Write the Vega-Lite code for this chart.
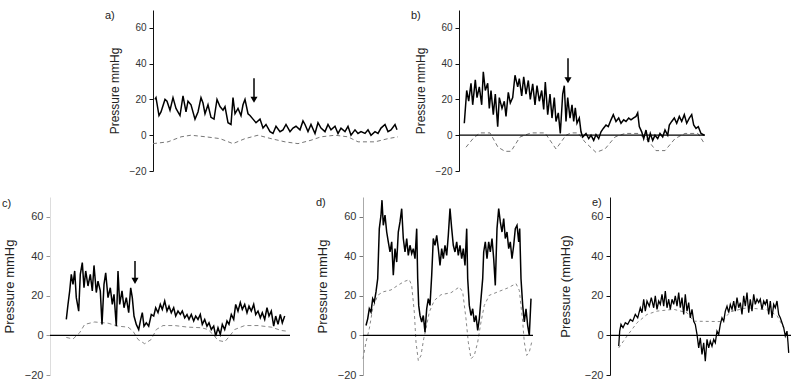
{
  "$schema": "https://vega.github.io/schema/vega-lite/v6.json",
  "padding": {"left": 2, "top": 10, "right": 0, "bottom": 0},
  "background": "white",
  "config": {
    "view": {"stroke": null},
    "font": "Liberation Sans",
    "axis": {"labelFont": "Liberation Sans", "labelFontSize": 10, "labelColor": "#333", "titleFont": "Liberation Sans", "titleFontSize": 12, "titleFontWeight": "normal", "titleColor": "#222", "domainColor": "#111", "tickColor": "#111", "tickSize": 4, "grid": false, "titlePadding": 8, "labelPadding": 3},
    "title": {"font": "Liberation Sans", "fontSize": 11, "fontWeight": "normal", "color": "#222", "anchor": "start", "frame": "group", "baseline": "bottom"}
  },
  "datasets": {
    "zero": [{"z": 0}],
    "a_s": [{"t":2,"v":20},{"t":3,"v":21},{"t":6,"v":11},{"t":8,"v":13},{"t":12,"v":20},{"t":14,"v":19},{"t":17,"v":14},{"t":20,"v":21},{"t":23,"v":15},{"t":27,"v":11},{"t":30,"v":22},{"t":33,"v":13},{"t":35,"v":19},{"t":38,"v":17},{"t":42,"v":9},{"t":45,"v":13},{"t":48,"v":21},{"t":50,"v":18},{"t":52,"v":12},{"t":55,"v":17},{"t":58,"v":10},{"t":61,"v":9},{"t":64,"v":20},{"t":67,"v":16},{"t":70,"v":14},{"t":72,"v":16},{"t":75,"v":7},{"t":78,"v":6},{"t":80,"v":21},{"t":82,"v":12},{"t":85,"v":15},{"t":88,"v":11},{"t":90,"v":17},{"t":92,"v":20},{"t":95,"v":12},{"t":97,"v":11},{"t":100,"v":9},{"t":103,"v":7},{"t":107,"v":9},{"t":110,"v":4},{"t":113,"v":6},{"t":117,"v":2},{"t":120,"v":1},{"t":123,"v":5},{"t":127,"v":2},{"t":130,"v":3},{"t":133,"v":6},{"t":137,"v":2},{"t":140,"v":4},{"t":143,"v":5},{"t":147,"v":3},{"t":150,"v":8},{"t":152,"v":6},{"t":155,"v":2},{"t":158,"v":6},{"t":162,"v":1},{"t":165,"v":7},{"t":168,"v":4},{"t":172,"v":2},{"t":175,"v":6},{"t":178,"v":3},{"t":182,"v":5},{"t":185,"v":1},{"t":188,"v":4},{"t":192,"v":2},{"t":195,"v":5},{"t":198,"v":0},{"t":202,"v":3},{"t":205,"v":1},{"t":208,"v":2},{"t":212,"v":1},{"t":215,"v":3},{"t":218,"v":0},{"t":222,"v":2},{"t":225,"v":1},{"t":228,"v":4},{"t":232,"v":6},{"t":235,"v":2},{"t":238,"v":3},{"t":242,"v":6},{"t":244,"v":3}],
    "a_d": [{"t":0,"v":-4.7},{"t":15,"v":-3.7},{"t":28,"v":-0.9},{"t":38,"v":0},{"t":53,"v":-0.9},{"t":67,"v":-1.9},{"t":80,"v":-4.7},{"t":92,"v":-1.9},{"t":105,"v":0},{"t":118,"v":-1.9},{"t":132,"v":-3.7},{"t":145,"v":-4.7},{"t":158,"v":-2.8},{"t":168,"v":-0.9},{"t":182,"v":0},{"t":195,"v":-0.9},{"t":205,"v":-3.7},{"t":222,"v":-3.7},{"t":235,"v":-1.9},{"t":245,"v":-0.9}],
    "b_s": [{"t":5.3,"v":6.7},{"t":7.7,"v":25},{"t":9.7,"v":19},{"t":12,"v":29},{"t":13.7,"v":17},{"t":16.3,"v":31},{"t":18,"v":21},{"t":20.3,"v":27},{"t":22.7,"v":17},{"t":24.3,"v":35.5},{"t":26.3,"v":25},{"t":28.7,"v":29},{"t":30.3,"v":15},{"t":32,"v":25},{"t":34.3,"v":11.5},{"t":36.3,"v":23},{"t":38.7,"v":4.8},{"t":40.3,"v":21},{"t":43,"v":15},{"t":45.3,"v":19},{"t":47,"v":10.5},{"t":49.3,"v":24},{"t":51.3,"v":18},{"t":53.7,"v":21},{"t":56,"v":33.5},{"t":58.7,"v":27},{"t":60.3,"v":31.6},{"t":62.7,"v":22},{"t":64.7,"v":32.6},{"t":67,"v":23},{"t":69.3,"v":30.6},{"t":71.3,"v":20},{"t":73.7,"v":28.7},{"t":76,"v":17},{"t":78,"v":27.7},{"t":80.3,"v":19},{"t":82.7,"v":25},{"t":84.7,"v":14.4},{"t":86.3,"v":29.7},{"t":88.7,"v":11.5},{"t":91,"v":23},{"t":93,"v":9.6},{"t":95.3,"v":21},{"t":97,"v":7.7},{"t":99.3,"v":12.5},{"t":101.3,"v":1},{"t":103.7,"v":23},{"t":105.3,"v":27.7},{"t":107,"v":7.7},{"t":108.7,"v":21},{"t":111,"v":9.6},{"t":113,"v":17},{"t":114.7,"v":7.7},{"t":116.3,"v":15.3},{"t":118,"v":6.7},{"t":120.3,"v":9.6},{"t":122,"v":1.9},{"t":123.7,"v":-1},{"t":127,"v":1},{"t":129.7,"v":-1.9},{"t":132,"v":0},{"t":134.7,"v":-2.9},{"t":137,"v":0.4},{"t":139.7,"v":-1.9},{"t":142,"v":1.9},{"t":144.3,"v":3.8},{"t":147,"v":5.7},{"t":149.3,"v":4.8},{"t":152,"v":8.6},{"t":154.3,"v":11.5},{"t":157,"v":7.7},{"t":159.7,"v":9.6},{"t":162,"v":6.7},{"t":164.7,"v":8.6},{"t":167,"v":7.7},{"t":169.7,"v":9.6},{"t":172,"v":8.6},{"t":174.3,"v":9.6},{"t":177,"v":10.5},{"t":178.7,"v":12.5},{"t":180.3,"v":4.8},{"t":182.7,"v":1.9},{"t":184.7,"v":-1.9},{"t":187,"v":2.9},{"t":189.3,"v":-3.8},{"t":191.3,"v":1},{"t":193.7,"v":-2.9},{"t":196,"v":0},{"t":198.7,"v":-1.9},{"t":201,"v":1},{"t":203.7,"v":-1},{"t":206,"v":2.9},{"t":208.7,"v":0},{"t":210.3,"v":5.7},{"t":212.7,"v":7.7},{"t":215.3,"v":9.6},{"t":217.7,"v":6.7},{"t":220.3,"v":10.5},{"t":222.7,"v":7.7},{"t":225.3,"v":11.5},{"t":227.7,"v":6.7},{"t":230.3,"v":9.6},{"t":232.7,"v":11.5},{"t":234.7,"v":5.7},{"t":237,"v":3.8},{"t":239.3,"v":4.8},{"t":242,"v":1},{"t":245.3,"v":0}],
    "b_d": [{"t":7,"v":-6.7},{"t":14,"v":-1.9},{"t":21,"v":1.3},{"t":31,"v":1.3},{"t":39,"v":-6.7},{"t":46,"v":-9},{"t":52,"v":-9},{"t":61,"v":-1},{"t":72,"v":1.3},{"t":86,"v":1.3},{"t":97,"v":-7.7},{"t":107,"v":0},{"t":112,"v":1.3},{"t":119,"v":1.3},{"t":126,"v":-3.8},{"t":137,"v":-9.6},{"t":146,"v":-7.7},{"t":156,"v":-1},{"t":166,"v":1},{"t":179,"v":1},{"t":189,"v":-2.9},{"t":197,"v":-8.6},{"t":206,"v":-8.6},{"t":216,"v":-1.9},{"t":226,"v":1},{"t":239,"v":1},{"t":246,"v":-5.2}],
    "c_s": [{"t":16.3,"v":8.1},{"t":18,"v":15.7},{"t":19.7,"v":22.5},{"t":21.3,"v":30.9},{"t":23,"v":25.8},{"t":24.7,"v":32.6},{"t":26.3,"v":19.1},{"t":28.7,"v":12.3},{"t":30.3,"v":30.9},{"t":32.3,"v":36.8},{"t":34,"v":24.1},{"t":35.7,"v":32.6},{"t":38,"v":25},{"t":40.3,"v":30.9},{"t":42.3,"v":22.5},{"t":44,"v":35.4},{"t":46.3,"v":21.7},{"t":48,"v":27.5},{"t":50.3,"v":22.5},{"t":52,"v":5.6},{"t":54,"v":25.8},{"t":55.7,"v":31.7},{"t":58,"v":19.1},{"t":60.3,"v":24.1},{"t":62.3,"v":15.7},{"t":64,"v":20.8},{"t":66.3,"v":4.7},{"t":68,"v":32.6},{"t":69.7,"v":15.7},{"t":72,"v":22.5},{"t":74,"v":14},{"t":76.3,"v":19.1},{"t":78.7,"v":11.5},{"t":80.7,"v":24.1},{"t":82.3,"v":19.1},{"t":84,"v":9.8},{"t":86.3,"v":5.6},{"t":88.7,"v":3},{"t":90.7,"v":8.1},{"t":92.3,"v":11.5},{"t":94,"v":4.7},{"t":96.3,"v":6.4},{"t":98.7,"v":4.7},{"t":101.3,"v":10.6},{"t":103.7,"v":9.8},{"t":105.7,"v":14},{"t":108,"v":11.5},{"t":110.3,"v":15.7},{"t":112.3,"v":13.2},{"t":114.7,"v":17.4},{"t":117,"v":12.3},{"t":119,"v":14.8},{"t":121.3,"v":11.5},{"t":123.7,"v":14},{"t":125.7,"v":9.8},{"t":128,"v":12.3},{"t":130.3,"v":10.6},{"t":132.3,"v":12.3},{"t":134.7,"v":8.9},{"t":137,"v":10.6},{"t":139,"v":8.1},{"t":141.3,"v":10.6},{"t":143.7,"v":7.3},{"t":145.7,"v":9.8},{"t":148,"v":8.1},{"t":150.3,"v":10.6},{"t":152.3,"v":5.6},{"t":154.7,"v":8.1},{"t":157,"v":4.7},{"t":159,"v":6.4},{"t":161.3,"v":3},{"t":163.7,"v":4.7},{"t":165.7,"v":-0.3},{"t":168,"v":3.9},{"t":170.3,"v":0.5},{"t":172.3,"v":5.6},{"t":174.7,"v":3},{"t":177,"v":7.3},{"t":179,"v":5.6},{"t":181.3,"v":10.6},{"t":183.7,"v":8.1},{"t":185.7,"v":15.7},{"t":188,"v":12.3},{"t":190.3,"v":16.6},{"t":192.3,"v":13.2},{"t":194.7,"v":15.7},{"t":197,"v":11.5},{"t":199,"v":14.8},{"t":201.3,"v":12.3},{"t":203.7,"v":15.7},{"t":205.7,"v":10.6},{"t":208,"v":12.3},{"t":210.3,"v":8.9},{"t":212.3,"v":11.5},{"t":214.7,"v":8.1},{"t":217,"v":14},{"t":219,"v":9.8},{"t":221.3,"v":12.3},{"t":223.7,"v":4.7},{"t":225.7,"v":9.8},{"t":228,"v":5.6},{"t":230.3,"v":10.6},{"t":232.3,"v":6.4},{"t":234.7,"v":9.8}],
    "c_d": [{"t":16.3,"v":-1},{"t":23,"v":-1.8},{"t":29.7,"v":1.4},{"t":34.7,"v":5.6},{"t":44.7,"v":6.8},{"t":58,"v":6.2},{"t":68,"v":4.7},{"t":78,"v":4.2},{"t":83,"v":2.2},{"t":88,"v":-2},{"t":94.7,"v":-4.2},{"t":101.3,"v":-2},{"t":106.3,"v":3},{"t":113,"v":5},{"t":124.7,"v":5},{"t":138,"v":4.2},{"t":151.3,"v":3.9},{"t":158,"v":3},{"t":163,"v":0.5},{"t":168,"v":-2.5},{"t":174.7,"v":-3.2},{"t":179.7,"v":-0.3},{"t":184.7,"v":3},{"t":194.7,"v":5},{"t":208,"v":5},{"t":221.3,"v":4.2},{"t":231.3,"v":2.5},{"t":236.3,"v":2.2}],
    "d_s": [{"t":3,"v":5},{"t":4.7,"v":8.4},{"t":6.3,"v":13.5},{"t":8,"v":11.8},{"t":9.7,"v":18.6},{"t":11.3,"v":16.9},{"t":13,"v":22},{"t":14.7,"v":28.7},{"t":16.3,"v":54},{"t":18,"v":60.8},{"t":19,"v":68.4},{"t":20.3,"v":55.7},{"t":22,"v":60.8},{"t":23.7,"v":52.3},{"t":25.3,"v":47.3},{"t":27,"v":42.2},{"t":28.7,"v":47.3},{"t":30.3,"v":30.4},{"t":32,"v":43.9},{"t":33.7,"v":37.1},{"t":35.3,"v":52.3},{"t":37,"v":57.4},{"t":38.7,"v":64.1},{"t":40.3,"v":49},{"t":42,"v":42.2},{"t":43.7,"v":49},{"t":45.3,"v":40.5},{"t":47,"v":45.6},{"t":48.7,"v":41.4},{"t":50.3,"v":43.9},{"t":52,"v":38.8},{"t":53.7,"v":54},{"t":54.7,"v":28.7},{"t":55.7,"v":15.2},{"t":57,"v":10.1},{"t":58.7,"v":6.8},{"t":60.3,"v":10.1},{"t":62,"v":1.7},{"t":63.7,"v":13.5},{"t":65.3,"v":18.6},{"t":67,"v":15.2},{"t":68.7,"v":30.4},{"t":70.3,"v":49},{"t":72,"v":45.6},{"t":73.7,"v":50.6},{"t":75.3,"v":43.9},{"t":77,"v":35.4},{"t":78.7,"v":43.9},{"t":80.3,"v":38.8},{"t":82,"v":45.6},{"t":83.7,"v":40.5},{"t":85.3,"v":50.6},{"t":87,"v":64.1},{"t":88.7,"v":54},{"t":90.3,"v":45.6},{"t":92,"v":42.2},{"t":93.7,"v":47.3},{"t":95.3,"v":40.5},{"t":97,"v":45.6},{"t":98.7,"v":38.8},{"t":100.3,"v":43.9},{"t":102,"v":35.4},{"t":103.7,"v":54},{"t":104.7,"v":28.7},{"t":106.3,"v":15.2},{"t":108,"v":10.1},{"t":109.7,"v":13.5},{"t":111.3,"v":6.8},{"t":113,"v":10.1},{"t":114.7,"v":2.5},{"t":116.3,"v":8.4},{"t":118,"v":18.6},{"t":119.7,"v":28.7},{"t":120.7,"v":42.2},{"t":122.3,"v":47.3},{"t":124,"v":38.8},{"t":125.7,"v":47.3},{"t":127.3,"v":42.2},{"t":129,"v":49},{"t":130.7,"v":38.8},{"t":132.3,"v":25.3},{"t":134,"v":54},{"t":135.7,"v":64.1},{"t":137.3,"v":57.4},{"t":139,"v":52.3},{"t":140.7,"v":59.1},{"t":142.3,"v":49},{"t":144,"v":52.3},{"t":145.7,"v":43.9},{"t":147.3,"v":47.3},{"t":149,"v":38.8},{"t":150.7,"v":45.6},{"t":152.3,"v":54},{"t":154,"v":55.7},{"t":155.7,"v":47.3},{"t":156.7,"v":54},{"t":158,"v":28.7},{"t":159.7,"v":15.2},{"t":161.3,"v":6.8},{"t":163,"v":13.5},{"t":164.7,"v":5},{"t":166.3,"v":0},{"t":168,"v":18.6}],
    "d_d": [{"t":0,"v":-11.8},{"t":3,"v":-3.4},{"t":6.3,"v":3.4},{"t":9.7,"v":13.5},{"t":14.7,"v":20.3},{"t":19.7,"v":22},{"t":28,"v":23},{"t":34.7,"v":25.3},{"t":41.3,"v":27.3},{"t":46.3,"v":28.2},{"t":48.7,"v":25.3},{"t":51.3,"v":11.8},{"t":53,"v":-3.4},{"t":55.3,"v":-12.7},{"t":58,"v":-10.1},{"t":60.7,"v":-1.7},{"t":63,"v":3.4},{"t":66.3,"v":11.8},{"t":71.3,"v":17.7},{"t":78,"v":20.6},{"t":88,"v":21.6},{"t":96.3,"v":24.5},{"t":99.7,"v":22},{"t":103,"v":8.4},{"t":105.3,"v":-3.4},{"t":108,"v":-11.8},{"t":111.3,"v":-10.1},{"t":114.7,"v":-3.4},{"t":118,"v":6.8},{"t":121.3,"v":15.2},{"t":126.3,"v":20.3},{"t":134.7,"v":22},{"t":144.7,"v":24},{"t":153,"v":26.2},{"t":156.3,"v":22.8},{"t":159.7,"v":6.8},{"t":161.3,"v":-3.4},{"t":163.7,"v":-10.1},{"t":166.3,"v":-8.4},{"t":168.7,"v":-3.4}],
    "e_s": [{"t":8.7,"v":-5.4},{"t":9.7,"v":2.2},{"t":11,"v":5.6},{"t":13,"v":3.9},{"t":15.3,"v":6.4},{"t":17.7,"v":5.6},{"t":20.3,"v":8.1},{"t":22.7,"v":7.2},{"t":25.3,"v":10.6},{"t":27.7,"v":8.9},{"t":30.3,"v":14},{"t":32,"v":11.5},{"t":33.7,"v":18.3},{"t":35.3,"v":12.3},{"t":37,"v":17.4},{"t":39.3,"v":14.8},{"t":41.3,"v":19.1},{"t":43.7,"v":14},{"t":45.3,"v":20},{"t":47,"v":13.2},{"t":48.7,"v":17.4},{"t":50.3,"v":15.7},{"t":52,"v":20.8},{"t":53.7,"v":14.8},{"t":55.3,"v":22.5},{"t":57,"v":14},{"t":58.7,"v":18.3},{"t":60.3,"v":13.2},{"t":62,"v":18.3},{"t":63.7,"v":15.7},{"t":65.3,"v":20},{"t":67,"v":14.8},{"t":68.7,"v":21.7},{"t":70.3,"v":14},{"t":72,"v":19.1},{"t":73.7,"v":10.6},{"t":75.3,"v":20.8},{"t":77,"v":12.3},{"t":78.7,"v":16.6},{"t":80.3,"v":8.9},{"t":82,"v":13.2},{"t":83.7,"v":7.2},{"t":85.3,"v":5.6},{"t":87,"v":0.5},{"t":88.7,"v":-6.3},{"t":90.3,"v":-1.2},{"t":92,"v":-9.6},{"t":93.7,"v":-3.7},{"t":95.3,"v":-13},{"t":97,"v":-2},{"t":98.7,"v":-6.3},{"t":100.3,"v":-2.9},{"t":102,"v":-5.4},{"t":103.7,"v":-2},{"t":105.3,"v":-3.7},{"t":107,"v":2.2},{"t":108.7,"v":0.5},{"t":110.3,"v":5.6},{"t":112,"v":8.9},{"t":113.7,"v":7.2},{"t":115.3,"v":12.3},{"t":117,"v":14.8},{"t":118.7,"v":11.5},{"t":120.3,"v":15.7},{"t":122,"v":13.2},{"t":123.7,"v":17.4},{"t":125.3,"v":12.3},{"t":127,"v":19.1},{"t":128.7,"v":14},{"t":130.3,"v":16.6},{"t":132,"v":10.6},{"t":133.7,"v":20},{"t":135.3,"v":14.8},{"t":137,"v":21.7},{"t":138.7,"v":11.5},{"t":140.3,"v":18.3},{"t":142,"v":12.3},{"t":143.7,"v":20.8},{"t":145.3,"v":15.7},{"t":147,"v":18.3},{"t":148.7,"v":16.6},{"t":150.3,"v":18.3},{"t":152,"v":13.2},{"t":153.7,"v":17.4},{"t":155.3,"v":15.7},{"t":157,"v":18.3},{"t":158.7,"v":10.6},{"t":160.3,"v":17.4},{"t":162,"v":8.9},{"t":163.7,"v":15.7},{"t":165.3,"v":14},{"t":167,"v":17.4},{"t":168.7,"v":10.6},{"t":170.3,"v":8.9},{"t":172,"v":6.4},{"t":173.7,"v":3.9},{"t":175.3,"v":-0.3},{"t":177,"v":2.2},{"t":178,"v":-3.7},{"t":178.7,"v":-8.8}],
    "e_d": [{"t":8.7,"v":-6.3},{"t":17,"v":-0.3},{"t":27,"v":6.4},{"t":37,"v":10.6},{"t":47,"v":12.3},{"t":63.7,"v":13.2},{"t":77,"v":11.5},{"t":83.7,"v":7.2},{"t":112,"v":7},{"t":120.3,"v":12},{"t":137,"v":14},{"t":157,"v":13},{"t":167,"v":10},{"t":173.7,"v":4}]
  },
  "vconcat": [
    {
      "hconcat": [
        {"width": 44, "height": 161, "data": {"values": [{"k": 0}]}, "mark": {"type": "point", "opacity": 0}, "encoding": {}},
        {
          "width": 247, "height": 161,
          "title": {"text": "a)", "dx": -48, "offset": -11},
          "layer": [
            {"data": {"name": "a_d"}, "mark": {"type": "line", "stroke": "#777", "strokeWidth": 1, "strokeDash": [4, 3]},
             "encoding": {"x": {"field": "t", "type": "quantitative", "scale": {"domain": [0, 247], "nice": false}, "axis": null},
                          "y": {"field": "v", "type": "quantitative", "title": "Pressure mmHg", "scale": {"domain": [-20, 70], "nice": false, "zero": false}, "axis": {"values": [-20, 0, 20, 40, 60]}}}},
            {"data": {"name": "a_s"}, "mark": {"type": "line", "stroke": "#000", "strokeWidth": 1.5},
             "encoding": {"x": {"field": "t", "type": "quantitative", "axis": null}, "y": {"field": "v", "type": "quantitative", "title": "Pressure mmHg"}}},
            {"data": {"values": [{"t": 101, "v": 19.8, "top": 31.8}]}, "mark": {"type": "rule", "stroke": "#000", "strokeWidth": 1.5},
             "encoding": {"x": {"field": "t", "type": "quantitative", "axis": null}, "y": {"field": "v", "type": "quantitative", "title": "Pressure mmHg"}, "y2": {"field": "top"}}},
            {"data": {"values": [{"t": 101, "v": 19.8}]}, "mark": {"type": "point", "shape": "triangle-down", "filled": true, "color": "#000", "size": 50, "opacity": 1},
             "encoding": {"x": {"field": "t", "type": "quantitative", "axis": null}, "y": {"field": "v", "type": "quantitative", "title": "Pressure mmHg"}}}
          ]
        },
        {
          "width": 246, "height": 161,
          "title": {"text": "b)", "dx": -48, "offset": -11},
          "layer": [
            {"data": {"name": "b_d"}, "mark": {"type": "line", "stroke": "#777", "strokeWidth": 1, "strokeDash": [4, 3]},
             "encoding": {"x": {"field": "t", "type": "quantitative", "scale": {"domain": [0, 246], "nice": false}, "axis": null},
                          "y": {"field": "v", "type": "quantitative", "title": "Pressure mmHg", "scale": {"domain": [-20, 70], "nice": false, "zero": false}, "axis": {"values": [-20, 0, 20, 40, 60]}}}},
            {"data": {"name": "zero"}, "mark": {"type": "rule", "stroke": "#000", "strokeWidth": 1.3}, "encoding": {"y": {"field": "z", "type": "quantitative", "title": "Pressure mmHg"}}},
            {"data": {"name": "b_s"}, "mark": {"type": "line", "stroke": "#000", "strokeWidth": 1.5},
             "encoding": {"x": {"field": "t", "type": "quantitative", "axis": null}, "y": {"field": "v", "type": "quantitative", "title": "Pressure mmHg"}}},
            {"data": {"values": [{"t": 109, "v": 30.7, "top": 43}]}, "mark": {"type": "rule", "stroke": "#000", "strokeWidth": 1.5},
             "encoding": {"x": {"field": "t", "type": "quantitative", "axis": null}, "y": {"field": "v", "type": "quantitative", "title": "Pressure mmHg"}, "y2": {"field": "top"}}},
            {"data": {"values": [{"t": 109, "v": 30.7}]}, "mark": {"type": "point", "shape": "triangle-down", "filled": true, "color": "#000", "size": 50, "opacity": 1},
             "encoding": {"x": {"field": "t", "type": "quantitative", "axis": null}, "y": {"field": "v", "type": "quantitative", "title": "Pressure mmHg"}}}
          ]
        }
      ],
      "spacing": 11
    },
    {
      "hconcat": [
        {
          "width": 240, "height": 178,
          "title": {"text": "c)", "dx": -48, "offset": -12},
          "layer": [
            {"data": {"name": "c_d"}, "mark": {"type": "line", "stroke": "#888", "strokeWidth": 1, "strokeDash": [4, 3]},
             "encoding": {"x": {"field": "t", "type": "quantitative", "scale": {"domain": [0, 240], "nice": false}, "axis": null},
                          "y": {"field": "v", "type": "quantitative", "title": "Pressure mmHg", "scale": {"domain": [-20, 70], "nice": false, "zero": false}, "axis": {"values": [-20, 0, 20, 40, 60], "labelFontSize": 11, "titleFontSize": 13, "domainColor": "#ddd", "tickColor": "#999"}}}},
            {"data": {"name": "zero"}, "mark": {"type": "rule", "stroke": "#000", "strokeWidth": 1.3}, "encoding": {"y": {"field": "z", "type": "quantitative", "title": "Pressure mmHg"}}},
            {"data": {"name": "c_s"}, "mark": {"type": "line", "stroke": "#000", "strokeWidth": 1.5},
             "encoding": {"x": {"field": "t", "type": "quantitative", "axis": null}, "y": {"field": "v", "type": "quantitative", "title": "Pressure mmHg"}}},
            {"data": {"values": [{"t": 85, "v": 27.6, "top": 37.6}]}, "mark": {"type": "rule", "stroke": "#000", "strokeWidth": 1.5},
             "encoding": {"x": {"field": "t", "type": "quantitative", "axis": null}, "y": {"field": "v", "type": "quantitative", "title": "Pressure mmHg"}, "y2": {"field": "top"}}},
            {"data": {"values": [{"t": 85, "v": 27.6}]}, "mark": {"type": "point", "shape": "triangle-down", "filled": true, "color": "#000", "size": 50, "opacity": 1},
             "encoding": {"x": {"field": "t", "type": "quantitative", "axis": null}, "y": {"field": "v", "type": "quantitative", "title": "Pressure mmHg"}}}
          ]
        },
        {
          "width": 170, "height": 178,
          "title": {"text": "d)", "dx": -47, "offset": -11},
          "layer": [
            {"data": {"name": "d_d"}, "mark": {"type": "line", "stroke": "#888", "strokeWidth": 1, "strokeDash": [3, 3]},
             "encoding": {"x": {"field": "t", "type": "quantitative", "scale": {"domain": [0, 170], "nice": false}, "axis": null},
                          "y": {"field": "v", "type": "quantitative", "title": "Pressure mmHg", "scale": {"domain": [-20, 70], "nice": false, "zero": false}, "axis": {"values": [-20, 0, 20, 40, 60], "labelFontSize": 11, "titleFontSize": 13, "domainColor": "#aaa", "tickColor": "#777"}}}},
            {"data": {"name": "zero"}, "mark": {"type": "rule", "stroke": "#000", "strokeWidth": 1.3}, "encoding": {"y": {"field": "z", "type": "quantitative", "title": "Pressure mmHg"}}},
            {"data": {"name": "d_s"}, "mark": {"type": "line", "stroke": "#000", "strokeWidth": 1.5},
             "encoding": {"x": {"field": "t", "type": "quantitative", "axis": null}, "y": {"field": "v", "type": "quantitative", "title": "Pressure mmHg"}}}
          ]
        },
        {
          "width": 181, "height": 178,
          "title": {"text": "e)", "dx": -18, "offset": -11},
          "layer": [
            {"data": {"name": "e_d"}, "mark": {"type": "line", "stroke": "#888", "strokeWidth": 1, "strokeDash": [3, 3]},
             "encoding": {"x": {"field": "t", "type": "quantitative", "scale": {"domain": [0, 181], "nice": false}, "axis": null},
                          "y": {"field": "v", "type": "quantitative", "title": "Pressure (mmHg)", "scale": {"domain": [-20, 70], "nice": false, "zero": false}, "axis": {"values": [-20, 0, 20, 40, 60], "labelFontSize": 11, "titleFontSize": 13, "titlePadding": 12}}}},
            {"data": {"name": "zero"}, "mark": {"type": "rule", "stroke": "#000", "strokeWidth": 1.3}, "encoding": {"y": {"field": "z", "type": "quantitative", "title": "Pressure (mmHg)"}}},
            {"data": {"name": "e_s"}, "mark": {"type": "line", "stroke": "#000", "strokeWidth": 1.3},
             "encoding": {"x": {"field": "t", "type": "quantitative", "axis": null}, "y": {"field": "v", "type": "quantitative", "title": "Pressure (mmHg)"}}}
          ]
        }
      ],
      "spacing": 25
    }
  ],
  "spacing": 21
}
